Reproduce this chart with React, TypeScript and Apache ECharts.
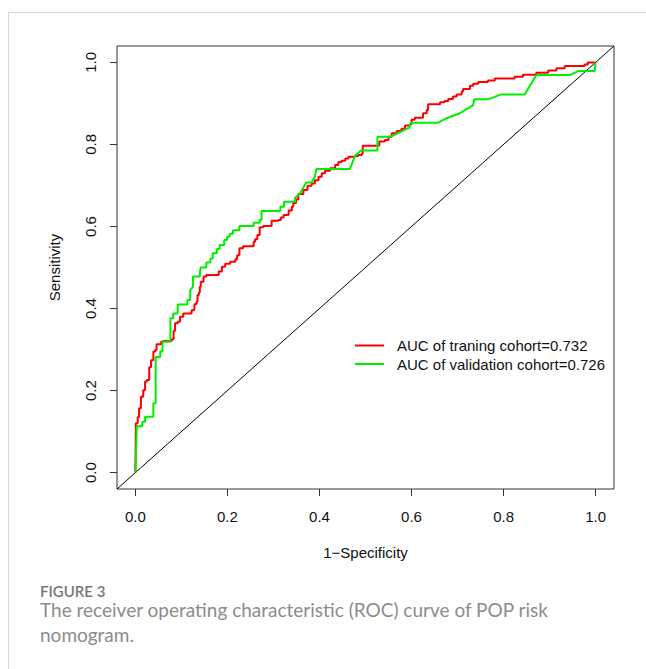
import React, { useEffect, useRef } from "react";
import * as echarts from "echarts";

// 1 - Specificity (x) and Sensitivity (y) for the training cohort (stair points)
const trainX = [0, 0.001, 0.005, 0.008, 0.012, 0.017, 0.021, 0.025, 0.03, 0.034, 0.039, 0.043, 0.046, 0.056, 0.06, 0.079, 0.083, 0.086, 0.092, 0.097, 0.104, 0.122, 0.128, 0.129, 0.133, 0.135, 0.138, 0.14, 0.142, 0.148, 0.154, 0.181, 0.188, 0.195, 0.206, 0.217, 0.221, 0.226, 0.234, 0.257, 0.26, 0.265, 0.27, 0.278, 0.296, 0.311, 0.316, 0.322, 0.333, 0.34, 0.343, 0.349, 0.354, 0.365, 0.374, 0.383, 0.39, 0.398, 0.405, 0.412, 0.423, 0.434, 0.441, 0.448, 0.456, 0.463, 0.477, 0.484, 0.492, 0.494, 0.53, 0.542, 0.55, 0.557, 0.568, 0.578, 0.586, 0.597, 0.6, 0.607, 0.625, 0.633, 0.636, 0.662, 0.672, 0.68, 0.69, 0.698, 0.709, 0.712, 0.727, 0.734, 0.745, 0.766, 0.781, 0.824, 0.842, 0.871, 0.897, 0.915, 0.933, 0.976, 0.983, 1.0];
const trainY = [0, 0.12, 0.135, 0.157, 0.185, 0.201, 0.222, 0.226, 0.257, 0.274, 0.295, 0.299, 0.313, 0.319, 0.321, 0.325, 0.345, 0.364, 0.368, 0.38, 0.388, 0.396, 0.4, 0.411, 0.417, 0.433, 0.439, 0.453, 0.465, 0.478, 0.482, 0.49, 0.502, 0.509, 0.514, 0.52, 0.53, 0.547, 0.552, 0.563, 0.569, 0.579, 0.598, 0.601, 0.614, 0.616, 0.622, 0.628, 0.639, 0.648, 0.657, 0.666, 0.679, 0.689, 0.699, 0.705, 0.713, 0.721, 0.73, 0.736, 0.742, 0.75, 0.757, 0.76, 0.766, 0.77, 0.772, 0.774, 0.778, 0.797, 0.807, 0.811, 0.819, 0.827, 0.833, 0.838, 0.846, 0.849, 0.86, 0.865, 0.876, 0.884, 0.898, 0.903, 0.906, 0.911, 0.917, 0.922, 0.929, 0.935, 0.943, 0.948, 0.952, 0.956, 0.961, 0.965, 0.97, 0.975, 0.98, 0.986, 0.991, 0.995, 1.0, 1.0];

// Validation cohort (corner points, including tied diagonal runs)
const validX = [0, 0.003, 0.015, 0.015, 0.021, 0.021, 0.039, 0.039, 0.044, 0.044, 0.054, 0.054, 0.059, 0.059, 0.076, 0.076, 0.082, 0.082, 0.092, 0.092, 0.113, 0.113, 0.119, 0.119, 0.125, 0.125, 0.14, 0.14, 0.142, 0.154, 0.154, 0.163, 0.163, 0.168, 0.168, 0.177, 0.177, 0.183, 0.183, 0.193, 0.193, 0.199, 0.199, 0.205, 0.205, 0.212, 0.212, 0.226, 0.226, 0.257, 0.257, 0.27, 0.27, 0.274, 0.274, 0.315, 0.315, 0.323, 0.323, 0.347, 0.347, 0.358, 0.371, 0.383, 0.39, 0.393, 0.466, 0.477, 0.49, 0.526, 0.526, 0.555, 0.595, 0.598, 0.658, 0.676, 0.705, 0.734, 0.736, 0.766, 0.795, 0.846, 0.871, 0.944, 0.962, 0.998, 1.0];
const validY = [0, 0.113, 0.113, 0.124, 0.124, 0.136, 0.136, 0.169, 0.169, 0.282, 0.282, 0.295, 0.295, 0.319, 0.319, 0.376, 0.376, 0.388, 0.388, 0.41, 0.41, 0.421, 0.421, 0.445, 0.453, 0.478, 0.478, 0.486, 0.5, 0.5, 0.512, 0.512, 0.522, 0.522, 0.535, 0.535, 0.545, 0.545, 0.555, 0.555, 0.567, 0.567, 0.575, 0.575, 0.582, 0.582, 0.591, 0.591, 0.601, 0.601, 0.609, 0.609, 0.616, 0.616, 0.638, 0.638, 0.648, 0.648, 0.66, 0.66, 0.67, 0.681, 0.707, 0.707, 0.721, 0.74, 0.74, 0.772, 0.785, 0.785, 0.819, 0.819, 0.841, 0.853, 0.853, 0.864, 0.876, 0.896, 0.91, 0.91, 0.922, 0.922, 0.969, 0.969, 0.979, 0.979, 1.0];

const tickValues = [0, 0.2, 0.4, 0.6, 0.8, 1.0];
const trainName = "AUC of traning cohort=0.732";
const validName = "AUC of validation cohort=0.726";
const xTitle = "1\u2212Specificity";
const yTitle = "Sensitivity";
const figLabel = "FIGURE 3";
const captionLines = [
  "The receiver operating characteristic (ROC) curve of POP risk",
  "nomogram.",
];

const FONT = "'Liberation Sans', Arial, sans-serif";

export default function App() {
  const ref = useRef<HTMLDivElement>(null);
  useEffect(() => {
    if (!ref.current) return;
    const chart = echarts.init(ref.current, null, { renderer: "svg" });
    const zip = (xs: number[], ys: number[]) => xs.map((x, i) => [x, ys[i]]);
    const axisCommon = {
      type: "value" as const,
      min: -0.04,
      max: 1.04,
      axisLine: { show: false, onZero: false },
      splitLine: { show: false },
      axisTick: {
        show: true,
        inside: false,
        length: 7,
        customValues: tickValues,
        lineStyle: { color: "#333", width: 1 },
      },
      axisLabel: {
        customValues: tickValues,
        formatter: (v: number) => v.toFixed(1),
        fontFamily: FONT,
        fontSize: 15,
        color: "#111",
        margin: 20,
      },
      nameLocation: "middle" as const,
      nameTextStyle: { fontFamily: FONT, fontSize: 15, color: "#111" },
    };
    chart.setOption({
      animation: false,
      backgroundColor: "#fff",
      grid: {
        left: 117,
        top: 46,
        width: 497,
        height: 443,
        show: true,
        borderColor: "#333",
        borderWidth: 1,
        backgroundColor: "transparent",
      },
      xAxis: { ...axisCommon, name: xTitle, nameGap: 56 },
      yAxis: {
        ...axisCommon,
        name: yTitle,
        nameGap: 55,
        axisLabel: { ...axisCommon.axisLabel, rotate: 90, margin: 19 },
      },
      legend: {
        left: 350,
        top: 333,
        orient: "vertical",
        itemWidth: 29,
        itemHeight: 2,
        itemGap: 3.5,
        icon: "rect",
        data: [trainName, validName],
        textStyle: {
          fontFamily: FONT,
          fontSize: 15,
          color: "#111",
          lineHeight: 15,
          padding: [0, 0, 0, 8],
        },
      },
      series: [
        {
          type: "line",
          name: "diag",
          data: [[-0.04, -0.04], [1.04, 1.04]],
          symbol: "none",
          silent: true,
          lineStyle: { color: "#000", width: 1 },
          z: 1,
        },
        {
          type: "line",
          name: trainName,
          data: zip(trainX, trainY),
          step: "end",
          symbol: "none",
          color: "#ff0000",
          lineStyle: { color: "#ff0000", width: 2 },
          z: 2,
        },
        {
          type: "line",
          name: validName,
          data: zip(validX, validY),
          symbol: "none",
          color: "#00ee00",
          lineStyle: { color: "#00ee00", width: 2 },
          z: 3,
        },
      ],
      graphic: [
        {
          type: "line",
          shape: { x1: 8, y1: 12.5, x2: 646, y2: 12.5 },
          style: { stroke: "#d8d8d8", lineWidth: 1 },
        },
        {
          type: "line",
          shape: { x1: 8.5, y1: 12, x2: 8.5, y2: 669 },
          style: { stroke: "#d8d8d8", lineWidth: 1 },
        },
        {
          type: "text",
          left: 40,
          top: 583,
          style: {
            text: figLabel,
            font: "600 15px Lato, 'Open Sans', sans-serif",
            fill: "#777777",
          },
        },
        {
          type: "text",
          left: 40,
          top: 600,
          style: {
            text: captionLines[0],
            font: "400 19px Lato, 'Open Sans', sans-serif",
            fill: "#8c8c8c",
          },
        },
        {
          type: "text",
          left: 40,
          top: 625,
          style: {
            text: captionLines[1],
            font: "400 19px Lato, 'Open Sans', sans-serif",
            fill: "#8c8c8c",
          },
        },
      ],
    });
    return () => chart.dispose();
  }, []);
  return (
    <div
      ref={ref}
      style={{ position: "absolute", left: 0, top: 0, width: 646, height: 669 }}
    />
  );
}
